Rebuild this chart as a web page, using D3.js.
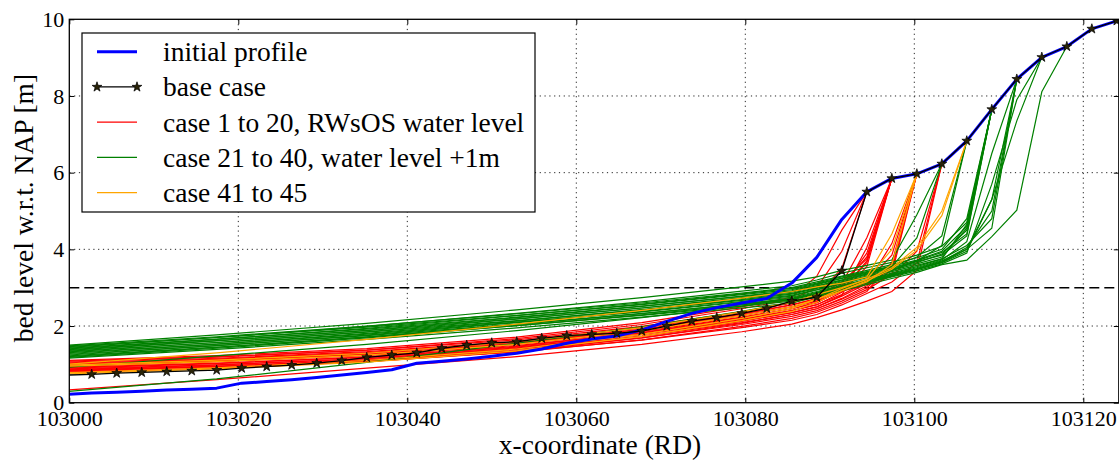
<!DOCTYPE html>
<html>
<head>
<meta charset="utf-8">
<script src="https://cdn.jsdelivr.net/npm/d3@7"></script>
<style>
  body { margin: 0; background: #fff; }
  svg { display: block; }
</style>
</head>
<body>
<div id="chart"></div>
<script>
// x-coordinates (RD) of the profile grid points
const xGrid = [102999.69, 103002.65, 103005.61, 103008.57, 103011.53, 103014.49, 103017.44,
  103020.40, 103023.36, 103026.32, 103029.28, 103032.24, 103035.20, 103038.16, 103041.12,
  103044.08, 103047.03, 103049.99, 103052.95, 103055.91, 103058.87, 103061.83, 103064.79,
  103067.75, 103070.71, 103073.67, 103076.62, 103079.58, 103082.54, 103085.50, 103088.46,
  103091.42, 103094.38, 103097.34, 103100.30, 103103.26, 103106.21, 103109.17, 103112.13,
  103115.09, 103118.05, 103121.01, 103123.97];

// bed levels on the full grid
const baseCase = [0.72, 0.74, 0.77, 0.79, 0.81, 0.83, 0.85, 0.90, 0.94, 0.98, 1.03, 1.10, 1.18,
  1.24, 1.30, 1.42, 1.50, 1.56, 1.59, 1.68, 1.75, 1.78, 1.81, 1.87, 2.00, 2.13, 2.22, 2.33,
  2.46, 2.65, 2.75, 3.44, 5.50, 5.85, 5.97, 6.23, 6.83, 7.65, 8.44, 9.01, 9.29, 9.75, 9.96];
const initialProfile = [0.22, 0.25, 0.27, 0.30, 0.33, 0.35, 0.38, 0.51, 0.55, 0.60, 0.66, 0.72,
  0.79, 0.86, 1.03, 1.08, 1.14, 1.21, 1.29, 1.40, 1.55, 1.66, 1.74, 1.90, 2.12, 2.33, 2.48,
  2.60, 2.72, 3.12, 3.79, 4.78, 5.50, 5.85, 5.97, 6.23, 6.83, 7.65, 8.44, 9.01, 9.29, 9.75, 9.96];

// case runs: first values sit on lowIdx grid points, the rest on grid points 30, 31, ...
// each run ends where it meets the base profile
const lowIdx = [0, 6, 12, 18, 23, 27, 29];
const redCases = [
  [1.10, 1.23, 1.41, 1.71, 2.09, 2.50, 2.75, 3.30, 4.50, 5.50],
  [1.08, 1.20, 1.37, 1.64, 1.99, 2.37, 2.60, 2.80, 3.50, 5.50],
  [1.06, 1.19, 1.37, 1.67, 2.04, 2.45, 2.70, 3.00, 3.95, 5.50],
  [1.04, 1.16, 1.33, 1.60, 1.95, 2.32, 2.55, 2.72, 3.10, 4.30, 5.85],
  [1.02, 1.14, 1.30, 1.57, 1.91, 2.28, 2.50, 2.66, 3.00, 3.90, 5.85],
  [1.00, 1.13, 1.30, 1.59, 1.96, 2.36, 2.60, 2.78, 3.15, 3.75, 5.85],
  [0.98, 1.10, 1.26, 1.52, 1.86, 2.23, 2.45, 2.60, 2.95, 3.65, 5.85],
  [0.96, 1.08, 1.23, 1.49, 1.82, 2.18, 2.40, 2.55, 2.88, 3.55, 5.85],
  [0.94, 1.07, 1.25, 1.54, 1.91, 2.31, 2.55, 2.70, 3.05, 3.80, 5.85],
  [0.92, 1.03, 1.19, 1.45, 1.78, 2.14, 2.35, 2.50, 2.80, 4.05, 5.85],
  [0.90, 1.02, 1.19, 1.47, 1.83, 2.22, 2.45, 2.62, 2.92, 3.70, 5.85],
  [0.88, 0.99, 1.15, 1.41, 1.73, 2.09, 2.30, 2.45, 2.70, 3.00, 3.55, 5.97],
  [0.86, 0.98, 1.15, 1.43, 1.78, 2.17, 2.40, 2.56, 2.82, 3.15, 3.85, 5.97],
  [0.84, 0.95, 1.11, 1.36, 1.69, 2.04, 2.25, 2.40, 2.65, 2.95, 3.35, 5.97],
  [0.82, 0.94, 1.11, 1.39, 1.74, 2.12, 2.35, 2.50, 2.78, 3.10, 4.15, 5.97],
  [0.80, 0.91, 1.07, 1.32, 1.64, 1.99, 2.20, 2.36, 2.60, 2.90, 3.65, 5.97],
  [0.78, 0.90, 1.07, 1.34, 1.69, 2.07, 2.30, 2.45, 2.72, 3.05, 3.45, 5.97],
  [0.97, 1.09, 1.26, 1.54, 1.89, 2.27, 2.50, 2.65, 2.90, 3.10, 3.30, 3.95, 6.23],
  [0.85, 0.95, 1.10, 1.33, 1.63, 1.96, 2.15, 2.30, 2.55, 2.85, 3.15, 3.65, 6.23],
  [0.33, 0.60, 0.90, 1.20, 1.52, 1.85, 2.05, 2.22, 2.42, 2.65, 2.90, 3.45, 6.23]
];
const greenCases = [
  [1.50, 1.77, 2.07, 2.42, 2.74, 3.02, 3.17, 3.28, 3.45, 3.58, 3.72, 4.90, 6.23],
  [1.48, 1.72, 2.00, 2.32, 2.60, 2.86, 3.00, 3.15, 3.30, 3.45, 3.60, 3.78, 4.00, 4.80, 7.65],
  [1.46, 1.70, 1.97, 2.28, 2.56, 2.82, 2.95, 3.10, 3.25, 3.40, 3.55, 3.80, 4.35, 6.83],
  [1.44, 1.70, 1.99, 2.33, 2.63, 2.91, 3.05, 3.20, 3.38, 3.52, 3.66, 3.85, 4.08, 4.70, 7.65],
  [1.42, 1.66, 1.92, 2.23, 2.52, 2.77, 2.90, 3.05, 3.20, 3.35, 3.55, 4.30, 6.23],
  [1.40, 1.65, 1.94, 2.27, 2.57, 2.84, 2.98, 3.12, 3.28, 3.42, 3.56, 3.72, 3.95, 4.60, 7.65],
  [1.38, 1.62, 1.88, 2.19, 2.47, 2.72, 2.85, 3.00, 3.18, 3.33, 3.48, 3.65, 3.88, 4.50, 7.65],
  [1.36, 1.61, 1.89, 2.22, 2.51, 2.78, 2.92, 3.08, 3.24, 3.38, 3.52, 3.70, 3.92, 4.40, 7.65],
  [1.34, 1.57, 1.84, 2.14, 2.42, 2.67, 2.80, 2.95, 3.12, 3.28, 3.45, 3.70, 4.10, 6.83],
  [1.32, 1.57, 1.85, 2.18, 2.47, 2.74, 2.88, 3.04, 3.20, 3.36, 3.50, 3.68, 3.85, 4.35, 7.65],
  [1.30, 1.53, 1.79, 2.10, 2.37, 2.62, 2.75, 2.90, 3.06, 3.22, 3.38, 3.55, 3.75, 4.10, 4.80, 8.44],
  [1.28, 1.53, 1.81, 2.13, 2.43, 2.69, 2.83, 2.98, 3.15, 3.30, 3.45, 3.62, 3.80, 4.55, 7.65],
  [1.26, 1.49, 1.75, 2.05, 2.33, 2.57, 2.70, 2.86, 3.02, 3.18, 3.34, 3.50, 3.70, 4.00, 4.55, 8.44],
  [1.24, 1.49, 1.76, 2.09, 2.38, 2.64, 2.78, 2.94, 3.10, 3.26, 3.42, 3.58, 3.75, 4.65, 7.65],
  [1.22, 1.45, 1.71, 2.01, 2.28, 2.52, 2.65, 2.80, 2.98, 3.14, 3.30, 3.47, 3.65, 3.95, 5.30, 8.44],
  [1.20, 1.44, 1.72, 2.04, 2.32, 2.58, 2.72, 2.88, 3.04, 3.20, 3.36, 3.52, 3.72, 4.20, 6.50, 8.44],
  [1.18, 1.42, 1.69, 2.01, 2.29, 2.55, 2.68, 2.84, 3.00, 3.16, 3.32, 3.48, 3.66, 4.00, 5.30, 7.35, 9.01],
  [1.16, 1.39, 1.65, 1.95, 2.23, 2.47, 2.60, 2.76, 2.92, 3.08, 3.24, 3.40, 3.60, 3.72, 4.33, 5.02, 8.11, 9.29],
  [0.92, 1.22, 1.52, 1.88, 2.22, 2.52, 2.70, 2.85, 3.00, 3.16, 3.32, 3.48, 3.68, 4.05, 5.00, 8.44],
  [0.29, 0.62, 1.05, 1.55, 1.98, 2.38, 2.62, 2.78, 2.96, 3.12, 3.28, 3.44, 3.62, 3.90, 5.70, 7.90, 9.01]
];
const orangeCases = [
  [1.00, 1.30, 1.65, 2.05, 2.41, 2.73, 2.90, 3.02, 3.12, 3.28, 4.40, 5.97],
  [0.98, 1.11, 1.29, 1.59, 1.96, 2.37, 2.62, 2.82, 3.00, 3.22, 4.00, 5.97],
  [0.95, 1.07, 1.24, 1.52, 1.88, 2.27, 2.50, 2.70, 2.92, 3.15, 3.60, 5.97],
  [0.75, 0.88, 1.06, 1.35, 1.73, 2.14, 2.38, 2.62, 2.92, 3.18, 3.48, 3.98, 4.88, 6.83],
  [0.78, 0.91, 1.10, 1.40, 1.78, 2.20, 2.45, 2.70, 2.98, 3.22, 3.52, 4.05, 5.00, 6.83]
];

const xTicks = [103000, 103020, 103040, 103060, 103080, 103100, 103120];
const yTicks = [0, 2, 4, 6, 8, 10];
const waterLevel = 3;
const legendLabels = ["initial profile", "base case", "case 1 to 20, RWsOS water level",
  "case 21 to 40, water level +1m", "case 41 to 45"];

// size and plot box
let width = 1119;
let height = 462;
let plot = {left: 69.3, right: 1118.8, top: 19.3, bottom: 402.7};
const fontName = "'Liberation Serif'";

let svg = d3.select("#chart")
            .append("svg")
            .attr("width", width)
            .attr("height", height);
svg.append("rect").attr("width", width).attr("height", height).attr("fill", "#fff");

let x = d3.scaleLinear().domain([103000, 103124.2]).range([plot.left, plot.right]);
let y = d3.scaleLinear().domain([0, 10]).range([plot.bottom, plot.top]);

svg.append("clipPath").attr("id", "clip")
   .append("rect")
   .attr("x", plot.left).attr("y", plot.top)
   .attr("width", plot.right - plot.left).attr("height", plot.bottom - plot.top);

// dotted grid
let grid = svg.append("g").attr("stroke", "#000").attr("stroke-width", 1)
              .attr("stroke-dasharray", "1.2,3.6").attr("opacity", 0.85);
grid.selectAll(".gx").data(xTicks.slice(1)).enter().append("line")
    .attr("x1", d => x(d)).attr("x2", d => x(d))
    .attr("y1", plot.top).attr("y2", plot.bottom);
grid.selectAll(".gy").data(yTicks.slice(1, -1)).enter().append("line")
    .attr("x1", plot.left).attr("x2", plot.right)
    .attr("y1", d => y(d)).attr("y2", d => y(d));

// water level
svg.append("line")
   .attr("x1", plot.left).attr("x2", plot.right)
   .attr("y1", y(waterLevel)).attr("y2", y(waterLevel))
   .attr("stroke", "#000").attr("stroke-width", 1.4)
   .attr("stroke-dasharray", "10,5");

let lines = svg.append("g").attr("clip-path", "url(#clip)");

// turn a case run into [gridIndex, value] pairs
function runPoints(run) {
    return run.map((v, i) => [i < lowIdx.length ? lowIdx[i] : 30 + i - lowIdx.length, v]);
}
let line = d3.line().x(d => x(xGrid[d[0]])).y(d => y(d[1]));

function drawCases(cases, color) {
    lines.append("g").selectAll("path")
        .data(cases)
        .enter()
        .append("path")
        .attr("d", d => line(runPoints(d)))
        .attr("fill", "none")
        .attr("stroke", color)
        .attr("stroke-width", 1.2);
}
drawCases(redCases, "#ff0000");
drawCases(greenCases, "#008000");
drawCases(orangeCases, "#ffa500");

// initial profile and base case on full grid
lines.append("path")
    .attr("d", line(initialProfile.map((v, i) => [i, v])))
    .attr("fill", "none").attr("stroke", "#0000ff").attr("stroke-width", 3)
    .attr("stroke-linejoin", "round");
lines.append("path")
    .attr("d", line(baseCase.map((v, i) => [i, v])))
    .attr("fill", "none").attr("stroke", "#000").attr("stroke-width", 1.3);

let star = d3.symbol().type(d3.symbolStar).size(30);
lines.append("g").selectAll("path")
    .data(baseCase.slice(1))
    .enter()
    .append("path")
    .attr("d", star)
    .attr("transform", (d, i) => `translate(${x(xGrid[i + 1])},${y(d)})`)
    .attr("fill", "#2a2408")
    .attr("stroke", "#000")
    .attr("stroke-width", 0.7);

// axes with inward ticks on all sides
function styleAxis(g) {
    g.select(".domain").remove();
    g.attr("font-family", null).attr("font-size", null);
    g.selectAll(".tick line").attr("stroke", "#000").attr("stroke-width", 1);
    g.selectAll("text").style("font-family", fontName).style("font-size", "22px").attr("fill", "#000");
}
svg.append("g")
    .attr("transform", `translate(0, ${plot.bottom})`)
    .call(d3.axisBottom(x).tickValues(xTicks).tickFormat(d3.format("d")).tickSize(-5).tickPadding(8))
    .call(styleAxis);
svg.append("g")
    .attr("transform", `translate(0, ${plot.top})`)
    .call(d3.axisTop(x).tickValues(xTicks).tickFormat("").tickSize(-5))
    .call(styleAxis);
svg.append("g")
    .attr("transform", `translate(${plot.left}, 0)`)
    .call(d3.axisLeft(y).tickValues(yTicks).tickFormat(d3.format("d")).tickSize(-5).tickPadding(5))
    .call(styleAxis);
svg.append("g")
    .attr("transform", `translate(${plot.right}, 0)`)
    .call(d3.axisRight(y).tickValues(yTicks).tickFormat("").tickSize(-5))
    .call(styleAxis);

svg.append("rect")
   .attr("x", plot.left).attr("y", plot.top)
   .attr("width", plot.right - plot.left).attr("height", plot.bottom - plot.top)
   .attr("fill", "none").attr("stroke", "#000").attr("stroke-width", 1.3);

// axis labels
svg.append("text")
   .attr("x", 600).attr("y", 454)
   .attr("text-anchor", "middle")
   .style("font-family", fontName).style("font-size", "27.5px")
   .text("x-coordinate (RD)");
svg.append("text")
   .attr("transform", "rotate(-90)")
   .attr("x", -208).attr("y", 33)
   .attr("text-anchor", "middle")
   .style("font-family", fontName).style("font-size", "27.5px")
   .text("bed level w.r.t. NAP [m]");

// legend
let legend = svg.append("g");
legend.append("rect")
    .attr("x", 82).attr("y", 33).attr("width", 453).attr("height", 179)
    .attr("fill", "#fff").attr("stroke", "#000").attr("stroke-width", 1.2);
let legendStyles = [
    {color: "#0000ff", w: 3, stars: false},
    {color: "#000", w: 1.3, stars: true},
    {color: "#ff0000", w: 1.3, stars: false},
    {color: "#008000", w: 1.3, stars: false},
    {color: "#ffa500", w: 1.3, stars: false}
];
legendLabels.forEach((label, i) => {
    let cy = 51.7 + i * 35.25;
    let s = legendStyles[i];
    legend.append("line")
        .attr("x1", 97).attr("x2", 137).attr("y1", cy).attr("y2", cy)
        .attr("stroke", s.color).attr("stroke-width", s.w);
    if (s.stars) {
        [97, 137].forEach(px => {
            legend.append("path").attr("d", star)
                .attr("transform", `translate(${px},${cy})`)
                .attr("fill", "#2a2408").attr("stroke", "#000").attr("stroke-width", 0.7);
        });
    }
    legend.append("text")
        .attr("x", 163).attr("y", cy + 9.5)
        .style("font-family", fontName).style("font-size", "27.5px")
        .text(label);
});
</script>
</body>
</html>
